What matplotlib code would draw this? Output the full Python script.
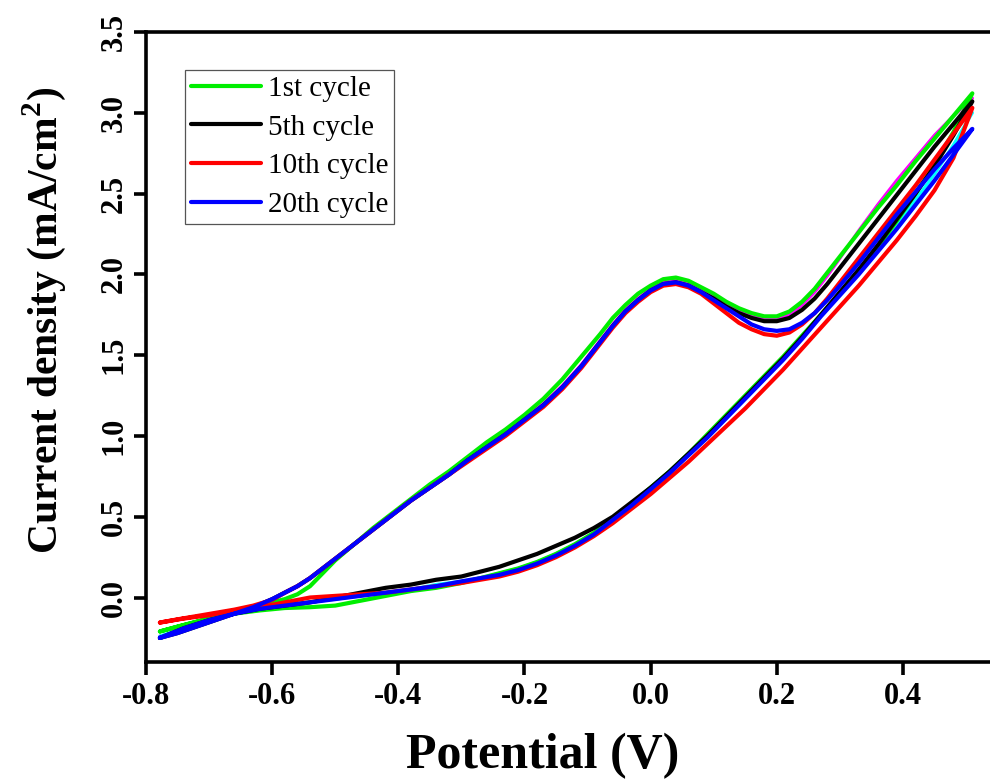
import matplotlib
matplotlib.use("Agg")
import matplotlib.pyplot as plt

# forward (anodic) scan potentials, V
fwd_v = [-0.778, -0.75, -0.72, -0.69, -0.66, -0.63, -0.60, -0.58, -0.56, -0.54,
         -0.52, -0.50, -0.47, -0.44, -0.41, -0.38, -0.35, -0.32, -0.29, -0.26,
         -0.23, -0.20, -0.17, -0.14, -0.11, -0.08, -0.06, -0.04, -0.02, 0.00,
         0.02, 0.04, 0.06, 0.08, 0.10, 0.12, 0.14, 0.16, 0.18, 0.20,
         0.22, 0.24, 0.26, 0.28, 0.30, 0.33, 0.36, 0.39, 0.42, 0.45,
         0.48, 0.51]
# reverse (cathodic) scan potentials, V
rev_v = [0.51, 0.48, 0.45, 0.42, 0.39, 0.36, 0.33, 0.30, 0.27, 0.24,
         0.21, 0.18, 0.15, 0.12, 0.09, 0.06, 0.03, 0.00, -0.03, -0.06,
         -0.09, -0.12, -0.15, -0.18, -0.21, -0.24, -0.27, -0.30, -0.34, -0.38,
         -0.42, -0.46, -0.50, -0.54, -0.58, -0.62, -0.66, -0.70, -0.74, -0.778]

# current density, mA/cm2
c1_fwd = [-0.21, -0.18, -0.15, -0.12, -0.09, -0.06, -0.03, -0.01, 0.02, 0.07,
          0.15, 0.23, 0.33, 0.43, 0.52, 0.61, 0.70, 0.78, 0.87, 0.96,
          1.04, 1.13, 1.23, 1.35, 1.49, 1.63, 1.73, 1.81, 1.88, 1.93,
          1.97, 1.98, 1.96, 1.92, 1.88, 1.83, 1.79, 1.76, 1.74, 1.74,
          1.77, 1.83, 1.91, 2.01, 2.11, 2.26, 2.41, 2.55, 2.70, 2.84,
          2.98, 3.12]
c1_rev = [3.12, 2.88, 2.68, 2.50, 2.33, 2.17, 2.02, 1.88, 1.75, 1.62,
          1.49, 1.37, 1.25, 1.13, 1.01, 0.89, 0.78, 0.68, 0.58, 0.49,
          0.40, 0.33, 0.27, 0.22, 0.18, 0.15, 0.12, 0.09, 0.06, 0.04,
          0.01, -0.02, -0.05, -0.06, -0.065, -0.08, -0.10, -0.13, -0.17, -0.21]

c5_fwd = [-0.25, -0.22, -0.18, -0.14, -0.10, -0.06, -0.01, 0.03, 0.07, 0.12,
          0.18, 0.24, 0.33, 0.42, 0.51, 0.60, 0.68, 0.76, 0.85, 0.93,
          1.01, 1.10, 1.19, 1.30, 1.43, 1.58, 1.68, 1.77, 1.84, 1.90,
          1.94, 1.95, 1.93, 1.89, 1.85, 1.80, 1.76, 1.73, 1.71, 1.71,
          1.73, 1.78, 1.85, 1.94, 2.04, 2.19, 2.34, 2.49, 2.64, 2.79,
          2.93, 3.07]
c5_rev = [3.07, 2.86, 2.67, 2.50, 2.34, 2.18, 2.03, 1.89, 1.75, 1.61,
          1.48, 1.36, 1.24, 1.12, 1.00, 0.89, 0.78, 0.68, 0.59, 0.50,
          0.43, 0.37, 0.32, 0.27, 0.23, 0.19, 0.16, 0.13, 0.11, 0.08,
          0.06, 0.03, 0.00, -0.03, -0.05, -0.07, -0.10, -0.14, -0.19, -0.25]

c10_fwd = [-0.155, -0.135, -0.115, -0.095, -0.075, -0.05, -0.015, 0.03, 0.07, 0.12,
           0.18, 0.24, 0.33, 0.42, 0.51, 0.60, 0.68, 0.76, 0.84, 0.92,
           1.00, 1.09, 1.18, 1.29, 1.42, 1.57, 1.67, 1.76, 1.83, 1.89,
           1.93, 1.94, 1.92, 1.88, 1.82, 1.76, 1.70, 1.66, 1.63, 1.62,
           1.64, 1.69, 1.76, 1.85, 1.95, 2.10, 2.25, 2.40, 2.55, 2.71,
           2.87, 3.03]
c10_rev = [3.03, 2.72, 2.52, 2.36, 2.21, 2.07, 1.93, 1.80, 1.67, 1.54,
           1.41, 1.29, 1.17, 1.06, 0.95, 0.84, 0.74, 0.64, 0.55, 0.46,
           0.38, 0.31, 0.25, 0.20, 0.16, 0.13, 0.11, 0.09, 0.07, 0.05,
           0.03, 0.02, 0.01, 0.00, -0.03, -0.06, -0.08, -0.11, -0.13, -0.155]

c20_fwd = [-0.25, -0.22, -0.18, -0.14, -0.10, -0.06, -0.01, 0.03, 0.07, 0.12,
           0.18, 0.24, 0.33, 0.42, 0.51, 0.60, 0.68, 0.76, 0.85, 0.93,
           1.01, 1.10, 1.19, 1.30, 1.43, 1.58, 1.68, 1.77, 1.84, 1.90,
           1.94, 1.95, 1.93, 1.89, 1.84, 1.79, 1.74, 1.69, 1.66, 1.65,
           1.66, 1.70, 1.76, 1.84, 1.93, 2.07, 2.22, 2.37, 2.51, 2.65,
           2.78, 2.90]
c20_rev = [2.90, 2.74, 2.58, 2.43, 2.28, 2.14, 2.00, 1.87, 1.74, 1.60,
           1.47, 1.35, 1.23, 1.11, 0.99, 0.88, 0.77, 0.67, 0.57, 0.48,
           0.39, 0.32, 0.26, 0.21, 0.17, 0.14, 0.12, 0.10, 0.07, 0.05,
           0.03, 0.01, -0.01, -0.03, -0.05, -0.07, -0.10, -0.14, -0.19, -0.25]

# other recorded cycles (not in the legend)
other_fwd = [-0.24, -0.21, -0.17, -0.13, -0.10, -0.06, -0.01, 0.03, 0.07, 0.12,
             0.18, 0.24, 0.33, 0.42, 0.51, 0.60, 0.68, 0.77, 0.85, 0.94,
             1.02, 1.11, 1.20, 1.31, 1.44, 1.59, 1.69, 1.78, 1.85, 1.91,
             1.95, 1.96, 1.94, 1.90, 1.86, 1.81, 1.77, 1.74, 1.72, 1.72,
             1.75, 1.81, 1.89, 1.99, 2.10, 2.27, 2.43, 2.58, 2.72, 2.86,
             2.98, 3.09]
other_rev = [3.00, 2.80, 2.62, 2.46, 2.31, 2.16, 2.02, 1.88, 1.75, 1.61,
             1.48, 1.36, 1.24, 1.12, 1.00, 0.89, 0.78, 0.68, 0.58, 0.49,
             0.40, 0.33, 0.27, 0.22, 0.18, 0.15, 0.12, 0.10, 0.08, 0.05,
             0.03, 0.01, -0.01, -0.03, -0.05, -0.07, -0.10, -0.14, -0.19, -0.24]

cycles = [
    ("1st cycle", "#00ee00", c1_fwd, c1_rev),
    ("5th cycle", "black", c5_fwd, c5_rev),
    ("10th cycle", "red", c10_fwd, c10_rev),
    ("20th cycle", "blue", c20_fwd, c20_rev),
]

plt.rcParams["font.family"] = ["Liberation Serif", "DejaVu Serif"]
plt.rcParams["mathtext.fontset"] = "custom"
plt.rcParams["mathtext.bf"] = "Liberation Serif:bold"
plt.rcParams["mathtext.rm"] = "Liberation Serif"

fig = plt.figure(figsize=(9.9, 7.79), dpi=100)
ax = fig.add_axes([0.1475, 0.150, 0.8525, 0.809])

ax.plot(fwd_v, other_fwd, color="magenta", lw=2.4, solid_capstyle="round")
ax.plot(rev_v, other_rev, color="cyan", lw=2.4, solid_capstyle="round")
for name, col, yf, yr in cycles:
    ax.plot(fwd_v + rev_v[1:], yf + yr[1:], color=col, lw=3.0,
            solid_capstyle="round", solid_joinstyle="round", label=name)

ax.set_xlim(-0.8, 0.538)
ax.set_ylim(-0.4, 3.5)
ax.set_xticks([-0.8, -0.6, -0.4, -0.2, 0.0, 0.2, 0.4])
ax.set_yticks([0.0, 0.5, 1.0, 1.5, 2.0, 2.5, 3.0, 3.5])
ax.set_xticklabels(["-0.8", "-0.6", "-0.4", "-0.2", "0.0", "0.2", "0.4"])
ax.set_yticklabels(["0.0", "0.5", "1.0", "1.5", "2.0", "2.5", "3.0", "3.5"])

for side in ["left", "bottom", "top"]:
    ax.spines[side].set_linewidth(2.6)
ax.spines["right"].set_visible(False)
ax.tick_params(direction="out", length=9, width=2.6, labelsize=22, pad=5.5)
ax.tick_params(axis="y", labelrotation=90, pad=3.5)
for t in ax.get_xticklabels() + ax.get_yticklabels():
    t.set_fontweight("bold")
for t in ax.get_yticklabels():
    t.set_va("center")

fig.text(543 / 990, 1 - 756 / 779, "Potential (V)", fontsize=36,
         fontweight="bold", ha="center", va="center")
fig.text(44 / 990, 1 - 320 / 779, "Current density (mA/cm$^\\mathbf{2}$)",
         fontsize=30, fontweight="bold", rotation=90, ha="center", va="center")

leg = ax.legend(loc="upper left", bbox_to_anchor=(0.046, 0.94), borderaxespad=0,
                fontsize=21, frameon=True, fancybox=False, framealpha=1,
                edgecolor="#555555", handlelength=2.4, handletextpad=0.25,
                labelspacing=0.42, borderpad=0.2)
leg.get_frame().set_linewidth(0.9)
for line in leg.get_lines():
    line.set_linewidth(3.0)

fig.savefig("out.png", dpi=100)
